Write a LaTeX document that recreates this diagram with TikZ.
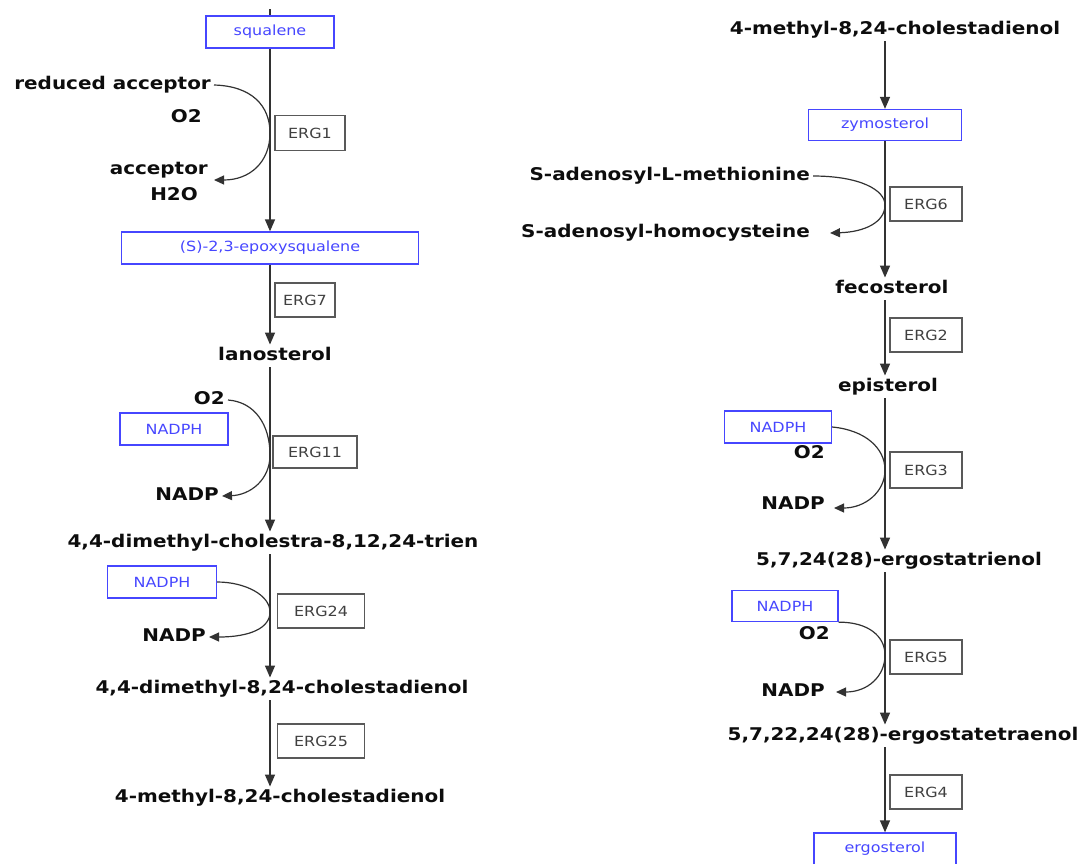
\documentclass[tikz,border=0pt]{standalone}
\usepackage{fontspec}
\setmainfont{DejaVu Sans}[FakeStretch=1.14]
\usetikzlibrary{arrows.meta}
\definecolor{molblue}{RGB}{70,70,255}
\definecolor{lin}{RGB}{50,50,50}
\begin{document}
\begin{tikzpicture}[x=1pt,y=-1pt,
 comp/.style={font=\bfseries\fontsize{17.5}{20}\selectfont, text=black!95, inner sep=3pt, text height=13pt, text depth=3.5pt},
 mol/.style={draw=molblue, text=molblue, line width=1.3pt, font=\fontsize{14}{16}\selectfont, minimum height=32pt, inner sep=0pt},
 enz/.style={draw=black!65, line width=1.3pt, text=black!75, font=\fontsize{14}{16}\selectfont, minimum height=34pt, inner sep=0pt},
 main/.style={draw=lin, line width=1.4pt, -{Triangle[length=12pt,width=10pt]}},
 side/.style={draw=lin, line width=1.2pt, -{Triangle[length=10pt,width=9pt]}},
 stub/.style={draw=lin, line width=1.4pt},
]
\path[use as bounding box] (0,0) rectangle (1086,863);
% ---------------- left column ----------------
\coordinate (top1) at (270,9);
\node[mol, minimum width=128pt] (sq) at (270,32) {squalene};
\draw[stub] (top1) -- (sq.north);
\node[comp, anchor=east] (racc) at (214,85) {reduced acceptor};
\node[comp, anchor=east] (o2a) at (205,118) {O2};
\node[comp, anchor=east] (acc) at (211,170) {acceptor};
\node[comp, anchor=east] (h2o) at (201,196) {H2O};
\node[enz, minimum width=70pt, minimum height=35pt] (erg1) at (310,133) {ERG1};
\node[mol, minimum width=297pt] (epox) at (270,248) {(S)-2,3-epoxysqualene};
\coordinate (t1) at (214,180);
\draw[main] (sq.south) -- (epox.north);
\draw[side] (racc.east) .. controls (252,86) and (270,106) .. (270,133) .. controls (270,162) and (250,180) .. (t1);

\node[enz, minimum width=60pt] (erg7) at (305,300) {ERG7};
\node[comp] (lan) at (275,356) {lanosterol};
\draw[main] (epox.south) -- (epox.south |- lan.north);

\node[comp, anchor=east] (o2b) at (228,400) {O2};
\node[mol, minimum width=108pt] (nadph1) at (174,429) {NADPH};
\node[enz, minimum width=84pt, minimum height=32pt] (erg11) at (315,452) {ERG11};
\node[comp, anchor=east] (nadp1) at (222,496) {NADP};
\node[comp] (trien) at (273,543) {4,4-dimethyl-cholestra-8,12,24-trien};
\draw[main] (lan.south -| sq.south) -- (trien.north -| sq.south);
\draw[side] (o2b.east) .. controls (255,402) and (270,425) .. (270,455) .. controls (270,480) and (250,495) .. (nadp1.east);

\node[mol, minimum width=109pt] (nadph2) at (162,582) {NADPH};
\node[enz, minimum width=87pt] (erg24) at (321,611) {ERG24};
\node[comp, anchor=east] (nadp2) at (209,637) {NADP};
\node[comp] (dien) at (282,689) {4,4-dimethyl-8,24-cholestadienol};
\draw[main] (trien.south -| sq.south) -- (dien.north -| sq.south);
\draw[side] (nadph2.east) .. controls (245,582) and (270,595) .. (270,612) .. controls (270,628) and (250,637) .. (nadp2.east);

\node[enz, minimum width=87pt] (erg25) at (321,741) {ERG25};
\node[comp] (meth) at (280,798) {4-methyl-8,24-cholestadienol};
\draw[main] (dien.south -| sq.south) -- (meth.north -| sq.south);

% ---------------- right column ----------------
\node[comp] (meth2) at (895,30) {4-methyl-8,24-cholestadienol};
\node[mol, minimum width=153pt, minimum height=31pt] (zym) at (885,125) {zymosterol};
\draw[main] (meth2.south -| zym.north) -- (zym.north);

\node[comp, anchor=east] (sam) at (813,176) {S-adenosyl-L-methionine};
\node[comp, anchor=east] (sah) at (813,233) {S-adenosyl-homocysteine};
\node[enz, minimum width=72pt] (erg6) at (926,204) {ERG6};
\coordinate (t3) at (830,233);
\node[comp] (fec) at (892,289) {fecosterol};
\draw[main] (zym.south) -- (zym.south |- fec.north);
\draw[side] (sam.east) .. controls (860,176) and (885,190) .. (885,205) .. controls (885,222) and (865,232) .. (t3);

\node[enz, minimum width=72pt] (erg2) at (926,335) {ERG2};
\node[comp] (epi) at (888,387) {episterol};
\draw[main] (fec.south -| zym.south) -- (epi.north -| zym.south);

\node[mol, minimum width=107pt] (nadph3) at (778,427) {NADPH};
\node[comp, anchor=east] (o2c) at (828,454) {O2};
\node[enz, minimum width=72pt, minimum height=36pt] (erg3) at (926,470) {ERG3};
\node[comp, anchor=east] (nadp3) at (828,505) {NADP};
\coordinate (t4) at (834,508);
\node[comp] (ergtri) at (899,561) {5,7,24(28)-ergostatrienol};
\draw[main] (epi.south -| zym.south) -- (ergtri.north -| zym.south);
\draw[side] (nadph3.east) .. controls (865,430) and (885,448) .. (885,470) .. controls (885,492) and (865,508) .. (t4);

\node[mol, minimum width=106pt, minimum height=31pt] (nadph4) at (785,606) {NADPH};
\node[comp, anchor=east] (o2d) at (833,635) {O2};
\node[enz, minimum width=72pt] (erg5) at (926,657) {ERG5};
\node[comp, anchor=east] (nadp4) at (828,692) {NADP};
\coordinate (t5) at (836,692);
\node[comp] (ergtet) at (903,736) {5,7,22,24(28)-ergostatetraenol};
\draw[main] (ergtri.south -| zym.south) -- (ergtet.north -| zym.south);
\draw[side] (nadph4.south east) .. controls (868,622) and (885,636) .. (885,655) .. controls (885,676) and (868,692) .. (t5);

\node[enz, minimum width=72pt] (erg4) at (926,792) {ERG4};
\node[mol, minimum width=142pt] (ergo) at (885,849) {ergosterol};
\draw[main] (ergtet.south -| zym.south) -- (ergo.north);
\end{tikzpicture}
\end{document}
